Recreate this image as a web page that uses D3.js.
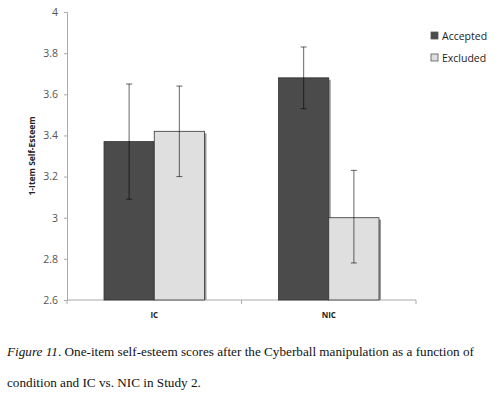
<!DOCTYPE html>
<html>
<head>
<meta charset="utf-8">
<title>Self-esteem bar chart</title>
<script src="https://d3js.org/d3.v7.min.js"></script>
<style>
  body { margin: 0; background: #fff; }
  svg { display: block; }
  .tick text { fill: #555; font-family: "Open Sans", "DejaVu Sans", sans-serif; font-size: 10.5px; }
</style>
</head>
<body>
<div id="chart"></div>
<script>
// data
var groups = ["IC", "NIC"];
var series = ["Accepted", "Excluded"];
var means = [[3.37, 3.42], [3.68, 3.00]];
var errLow = [[3.09, 3.20], [3.53, 2.78]];
var errHigh = [[3.65, 3.64], [3.83, 3.23]];
var yTicks = [2.6, 2.8, 3, 3.2, 3.4, 3.6, 3.8, 4];
var colors = ["#4b4b4b", "#dfdfdf"];

var W = 500, H = 395;
var svg = d3.select("#chart").append("svg").attr("width", W).attr("height", H);

var x0 = d3.scaleBand().domain(groups).range([67, 416]).paddingInner(0).paddingOuter(0);
var x1 = d3.scaleBand().domain(series).range([37, x0.bandwidth() - 37]);
var y = d3.scaleLinear().domain([2.6, 4]).range([300, 12]);

// y axis
var yAxis = svg.append("g").attr("transform", "translate(67,0)")
  .call(d3.axisLeft(y).tickValues(yTicks).tickSize(3).tickPadding(6)
    .tickFormat(function(d) { return d3.format("")(+d.toFixed(1)); }));
yAxis.select(".domain").attr("stroke", "#aaa");
yAxis.selectAll(".tick line").attr("stroke", "#aaa");

// x axis with ticks at band edges
var xg = svg.append("g").attr("transform", "translate(0,300)");
xg.append("line").attr("x1", 67).attr("x2", 416).attr("stroke", "#aaa");
xg.selectAll("line.t").data([67, x0("NIC"), 416]).enter().append("line")
  .attr("class", "t").attr("x1", function(d) { return d; }).attr("x2", function(d) { return d; })
  .attr("y1", 0).attr("y2", 4).attr("stroke", "#aaa");
xg.selectAll("text").data(groups).enter().append("text")
  .attr("x", function(d) { return x0(d) + x0.bandwidth() / 2; })
  .attr("y", 18).attr("text-anchor", "middle")
  .attr("font-family", "'Open Sans', 'DejaVu Sans', sans-serif")
  .attr("font-size", 8).attr("font-weight", "bold").attr("fill", "#222")
  .text(function(d) { return d; });

// y label
svg.append("text")
  .attr("transform", "translate(35," + y(3.3) + ") rotate(-90)")
  .attr("text-anchor", "middle")
  .attr("font-family", "'Open Sans', 'DejaVu Sans', sans-serif")
  .attr("font-size", 8.5).attr("font-weight", "bold").attr("fill", "#222")
  .text("1-Item Self-Esteem");

// bars
var cells = [];
groups.forEach(function(g, gi) {
  series.forEach(function(s, si) {
    cells.push({ g: g, s: s, si: si, v: means[gi][si], lo: errLow[gi][si], hi: errHigh[gi][si] });
  });
});

var bar = svg.append("g").selectAll("g").data(cells).enter().append("g")
  .attr("transform", function(d) { return "translate(" + (x0(d.g) + x1(d.s)) + ",0)"; });

// shadow on right edge
bar.append("rect")
  .attr("x", 2).attr("y", function(d) { return y(d.v) + 2; })
  .attr("width", x1.bandwidth()).attr("height", function(d) { return 300 - y(d.v) - 2; })
  .attr("fill", "#999");
bar.append("rect")
  .attr("x", 0).attr("y", function(d) { return y(d.v); })
  .attr("width", x1.bandwidth()).attr("height", function(d) { return 300 - y(d.v); })
  .attr("fill", function(d) { return colors[d.si]; })
  .attr("stroke", "#333").attr("stroke-width", 0.8);

// error bars (semi-transparent so they show darker on the dark bars)
var cx = x1.bandwidth() / 2;
var eb = bar.append("g").attr("stroke", "#000").attr("stroke-opacity", 0.55).attr("stroke-width", 1.1);
eb.append("line")
  .attr("x1", cx).attr("x2", cx)
  .attr("y1", function(d) { return y(d.hi); }).attr("y2", function(d) { return y(d.lo); });
eb.selectAll("line.cap").data(function(d) { return [d.hi, d.lo]; }).enter().append("line")
  .attr("class", "cap")
  .attr("x1", cx - 3).attr("x2", cx + 3)
  .attr("y1", function(v) { return y(v); }).attr("y2", function(v) { return y(v); });

// legend
var lg = svg.append("g").selectAll("g").data(series).enter().append("g")
  .attr("transform", function(d, i) { return "translate(431," + (32 + i * 22) + ")"; });
lg.append("rect").attr("width", 7).attr("height", 7)
  .attr("fill", function(d, i) { return colors[i]; })
  .attr("stroke", "#555").attr("stroke-width", 0.8);
lg.append("text").attr("x", 11).attr("y", 7.5)
  .attr("font-family", "'Open Sans', 'DejaVu Sans', sans-serif")
  .attr("font-size", 10.5).attr("fill", "#222")
  .text(function(d) { return d; });

// caption
var cap = svg.append("g").attr("font-family", "'Liberation Serif', 'Times New Roman', serif")
  .attr("font-size", 13.2).attr("fill", "#111");
var t1 = cap.append("text").attr("x", 7).attr("y", 356);
t1.append("tspan").attr("font-style", "italic").text("Figure 11");
t1.append("tspan").text(". One-item self-esteem scores after the Cyberball manipulation as a function of");
cap.append("text").attr("x", 7).attr("y", 387)
  .text("condition and IC vs. NIC in Study 2.");
</script>
</body>
</html>
